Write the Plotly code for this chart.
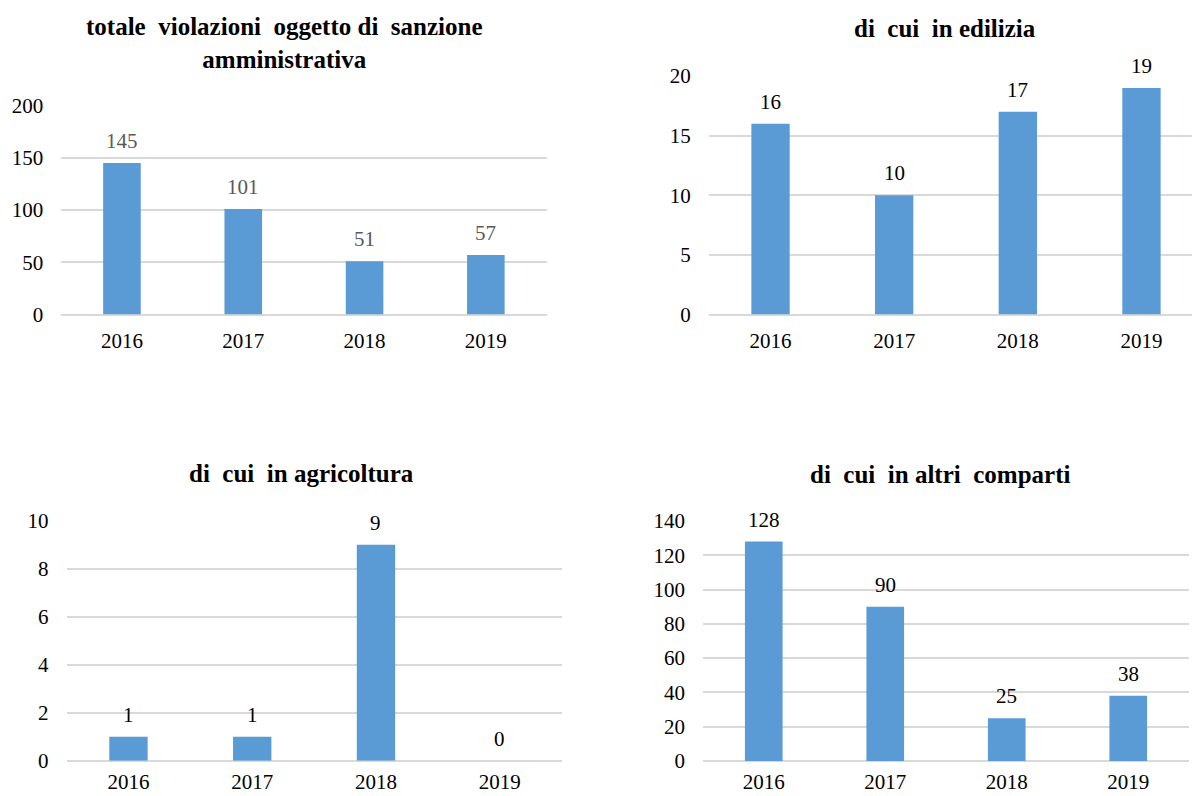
import plotly.graph_objects as go

years = ["2016", "2017", "2018", "2019"]
totale = [145, 101, 51, 57]
edilizia = [16, 10, 17, 19]
agricoltura = [1, 1, 9, 0]
altri = [128, 90, 25, 38]

titles = [
    "totale  violazioni  oggetto di  sanzione<br>amministrativa",
    "di  cui  in edilizia",
    "di  cui  in agricoltura",
    "di  cui  in altri  comparti",
]

FONT = "Liberation Serif"
BAR = "#5B9BD5"
GRID = "#D9D9D9"
W, H = 1192, 796

panels = [
    dict(vals=totale, x0=61.3, x1=546.5, top=105.5, bot=314.5, ymax=200, dtick=50, lab="#595959", xstand=11),
    dict(vals=edilizia, x0=708.7, x1=1203.3, top=76, bot=314.5, ymax=20, dtick=5, lab="#000000", xstand=11),
    dict(vals=agricoltura, x0=66.6, x1=561.6, top=520.7, bot=760.7, ymax=10, dtick=2, lab="#000000", xstand=6),
    dict(vals=altri, x0=703, x1=1189, top=521, bot=761, ymax=140, dtick=20, lab="#000000", xstand=6),
]

title_pos = [(284, 43), (945, 28), (301, 473), (940, 474)]


def fx(px):
    return px / W


def fy(py):
    return 1 - py / H


fig = go.Figure()
layout = dict(
    width=W, height=H, margin=dict(l=0, r=0, t=0, b=0, autoexpand=False),
    paper_bgcolor="white", plot_bgcolor="white",
    showlegend=False, bargap=0.69,
    font=dict(family=FONT, size=21, color="#000000"),
)
annotations = []
for i, p in enumerate(panels):
    n = "" if i == 0 else str(i + 1)
    xa, ya = "x" + n, "y" + n
    fig.add_trace(go.Bar(
        x=years, y=p["vals"], xaxis=xa, yaxis=ya,
        marker=dict(color=BAR, line=dict(width=0)),
        hoverinfo="skip", cliponaxis=False,
    ))
    for j, v in enumerate(p["vals"]):
        annotations.append(dict(
            x=j, y=v, xref=xa, yref=ya, text=str(v), showarrow=False,
            yanchor="bottom", yshift=8,
            font=dict(family=FONT, size=21, color=p["lab"]),
        ))
    d0, d1 = fx(p["x0"]), fx(p["x1"])
    rng_hi = 3.5
    if d1 > 1:
        rng_hi = -0.5 + 4 * (1 - d0) / (d1 - d0)
        d1 = 1.0
    layout["xaxis" + n] = dict(
        domain=[d0, d1], anchor=ya, type="category", automargin=False,
        range=[-0.5, rng_hi], showgrid=False, zeroline=False, showline=False,
        ticks="", ticklabelstandoff=p["xstand"],
        tickfont=dict(family=FONT, size=21, color="#000000"),
        fixedrange=True,
    )
    layout["yaxis" + n] = dict(
        domain=[fy(p["bot"]), fy(p["top"])], anchor=xa, automargin=False,
        range=[0, p["ymax"]], dtick=p["dtick"], tick0=0,
        showgrid=True, gridcolor=GRID, gridwidth=2,
        zeroline=True, zerolinecolor=GRID, zerolinewidth=2,
        showline=False, ticks="", ticklabelstandoff=17,
        tickfont=dict(family=FONT, size=21, color="#000000"),
        fixedrange=True,
    )
    tx, ty = title_pos[i]
    annotations.append(dict(
        x=fx(tx), y=fy(ty), xref="paper", yref="paper",
        text=titles[i], showarrow=False,
        xanchor="center", yanchor="middle",
        font=dict(family=FONT, size=25, color="#000000", weight="bold"),
    ))

layout["annotations"] = annotations
fig.update_layout(**layout)
fig.write_html(
    "out.html",
    config={"displayModeBar": False},
    post_script="document.body.style.margin='0';document.body.style.overflow='hidden';",
)
